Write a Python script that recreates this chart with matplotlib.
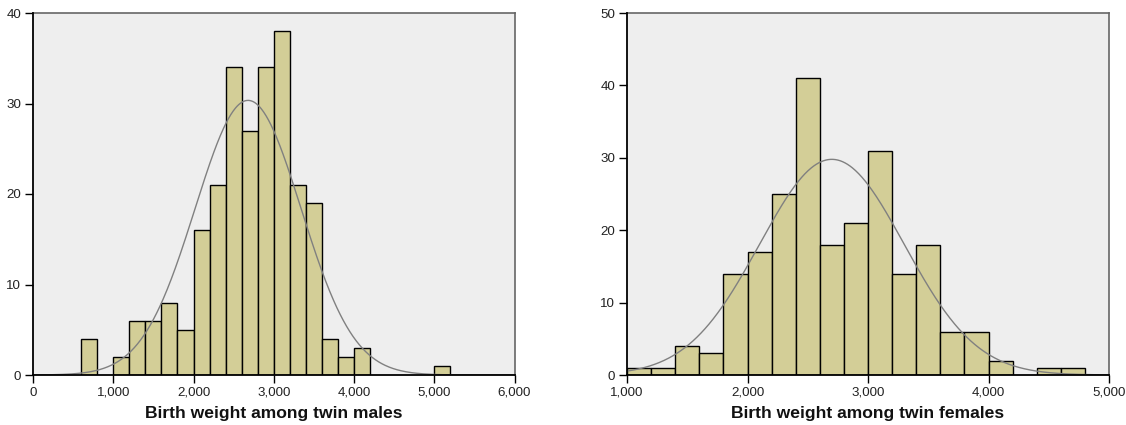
import numpy as np
import matplotlib
matplotlib.use("Agg")
import matplotlib.pyplot as plt
from matplotlib.ticker import FuncFormatter

plt.rcParams['font.family'] = ['Liberation Sans', 'DejaVu Sans']

# Males: bins of width 200 starting at 600
male_bin_edges = list(range(600, 5400, 200))
male_counts = [4, 0, 2, 6, 6, 8, 5, 16, 21, 34, 27, 34, 38, 21, 19, 4, 2, 3, 0, 0, 0, 0, 1]
male_mean, male_sd = 2680, 660
male_xticks = [0, 1000, 2000, 3000, 4000, 5000, 6000]
male_yticks = [0, 10, 20, 30, 40]
male_label = "Birth weight among twin males"

# Females: bins of width 200 starting at 1000
female_bin_edges = list(range(1000, 5000, 200))
female_counts = [1, 1, 4, 3, 14, 17, 25, 41, 18, 21, 31, 14, 18, 6, 6, 2, 0, 1, 1]
female_mean, female_sd = 2700, 600
female_xticks = [1000, 2000, 3000, 4000, 5000]
female_yticks = [0, 10, 20, 30, 40, 50]
female_label = "Birth weight among twin females"

BAR = "#D3CE97"
BG = "#EEEEEE"

fig = plt.figure(figsize=(11.26, 4.25), dpi=100)
ax1 = fig.add_axes([33/1126, 1-375/425, (514.5-33)/1126, (375-13)/425])
ax2 = fig.add_axes([627/1126, 1-375/425, (1109-627)/1126, (375-13)/425])

fmt = FuncFormatter(lambda v, p: f"{int(v):,}")

def draw(ax, edges, counts, mean, sd, xticks, yticks, label):
    edges = np.array(edges, dtype=float)
    counts = np.array(counts, dtype=float)
    w = edges[1] - edges[0]
    lefts = edges[:len(counts)]
    mask = counts > 0
    ax.bar(lefts[mask], counts[mask], width=w, align='edge', color=BAR,
           edgecolor='black', linewidth=1.0, zorder=2)
    n = counts.sum()
    xs = np.linspace(xticks[0], xticks[-1], 600)
    ys = n * w / (sd * np.sqrt(2 * np.pi)) * np.exp(-0.5 * ((xs - mean) / sd) ** 2)
    ax.plot(xs, ys, color='#808080', linewidth=1.0, zorder=3)
    ax.set_xlim(xticks[0], xticks[-1])
    ax.set_ylim(yticks[0], yticks[-1])
    ax.set_xticks(xticks)
    ax.set_yticks(yticks)
    ax.xaxis.set_major_formatter(fmt)
    ax.set_facecolor(BG)
    ax.tick_params(axis='both', direction='out', length=6, width=1, labelsize=9.6,
                   colors='black', labelcolor='#222222', pad=2.5)
    for s in ['left', 'bottom']:
        ax.spines[s].set_color('black')
        ax.spines[s].set_linewidth(1.3)
        ax.spines[s].set_zorder(4)
    for s in ['top', 'right']:
        ax.spines[s].set_color('#666666')
        ax.spines[s].set_linewidth(1.2)
    ax.set_xlabel(label, fontsize=12.6, fontweight='bold', labelpad=5, color='#111111')

draw(ax1, male_bin_edges, male_counts, male_mean, male_sd, male_xticks, male_yticks, male_label)
draw(ax2, female_bin_edges, female_counts, female_mean, female_sd, female_xticks, female_yticks, female_label)

fig.savefig("out.png", dpi=100, facecolor='white')
